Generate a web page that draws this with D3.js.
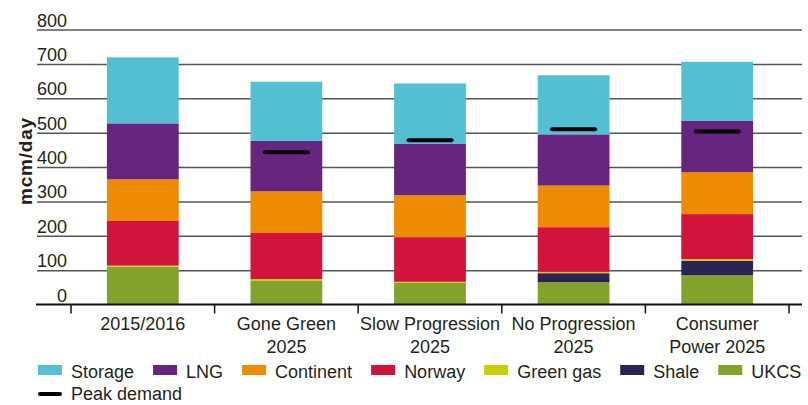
<!DOCTYPE html>
<html>
<head>
<meta charset="utf-8">
<script src="https://cdn.jsdelivr.net/npm/d3@7"></script>
<style>
  html, body { margin: 0; padding: 0; background: #fff; }
  svg { display: block; }
  text { font-family: "Liberation Sans", Arial, sans-serif; fill: #231f20; }
</style>
</head>
<body>
<svg id="chart" width="808" height="405"></svg>
<script>
// ---- Data ----
const categories = ["2015/2016", "Gone Green 2025", "Slow Progression 2025", "No Progression 2025", "Consumer Power 2025"];
const categoryLines = [["2015/2016"], ["Gone Green", "2025"], ["Slow Progression", "2025"], ["No Progression", "2025"], ["Consumer", "Power 2025"]];
const seriesNames = ["UKCS", "Shale", "Green gas", "Norway", "Continent", "LNG", "Storage"];
const ukcs      = [110, 70, 63, 65, 85];
const shale     = [0, 0, 0, 26, 42];
const greenGas  = [3, 4, 3, 4, 5];
const norway    = [130, 134, 130, 130, 131];
const continent = [121, 121, 122, 121, 122];
const lng       = [163, 147, 149, 149, 149];
const storage   = [192, 172, 176, 172, 172];
const peakDemand = [null, 443, 478, 510, 503];
const yTicks = [0, 100, 200, 300, 400, 500, 600, 700, 800];
const legendOrder = ["Storage", "LNG", "Continent", "Norway", "Green gas", "Shale", "UKCS"];
const colors = {
  "Storage": "#53bfd3",
  "LNG": "#68257f",
  "Continent": "#ef8b00",
  "Norway": "#d2133c",
  "Green gas": "#c8cf00",
  "Shale": "#2b2356",
  "UKCS": "#83a22b"
};

const seriesValues = [ukcs, shale, greenGas, norway, continent, lng, storage];
const table = categories.map((c, i) => {
  const row = { category: c };
  seriesNames.forEach((s, j) => row[s] = seriesValues[j][i]);
  return row;
});

// ---- Layout ----
const svg = d3.select("#chart");
const gridLeft = 37, gridRight = 802;
const y = d3.scaleLinear().domain([0, 800]).range([304.5, 29.5]);
const x = d3.scaleBand().domain(categories).range([71, 789]).paddingInner(0.5).paddingOuter(0.25);

// gridlines + y labels
const yAxis = d3.axisLeft(y).tickValues(yTicks).tickSize(-(gridRight - gridLeft)).tickFormat(d3.format("d"));
const gy = svg.append("g").attr("transform", `translate(${gridLeft},0)`).call(yAxis);
gy.select(".domain").remove();
gy.selectAll(".tick line").attr("stroke", "#555").attr("stroke-width", 1.5)
  .filter(d => d === 0).remove();
gy.selectAll(".tick text")
  .attr("x", 30).attr("dy", -3.5).attr("text-anchor", "end")
  .style("font-size", "18px").style("fill", "#231f20");

// y title
svg.append("text")
  .attr("transform", "translate(32,161) rotate(-90)")
  .attr("text-anchor", "middle")
  .style("font-size", "19px").style("font-weight", "bold").style("letter-spacing", "0.8px")
  .text("mcm/day");

// stacked bars
const stack = d3.stack().keys(seriesNames);
const stacked = stack(table);
svg.append("g").selectAll("g").data(stacked).join("g")
  .attr("fill", d => colors[d.key])
  .selectAll("rect").data(d => d).join("rect")
  .attr("x", d => x(d.data.category))
  .attr("width", x.bandwidth())
  .attr("y", d => y(d[1]))
  .attr("height", d => Math.max(0, y(d[0]) - y(d[1])));

// peak demand markers
const peakW = 47;
svg.append("g").selectAll("line").data(categories.map((c, i) => ({ c, v: peakDemand[i] })).filter(d => d.v != null))
  .join("line")
  .attr("x1", d => x(d.c) + x.bandwidth() / 2 - peakW / 2 + 2)
  .attr("x2", d => x(d.c) + x.bandwidth() / 2 + peakW / 2 - 2)
  .attr("y1", d => y(d.v)).attr("y2", d => y(d.v))
  .attr("stroke", "#000").attr("stroke-width", 4).attr("stroke-linecap", "round");

// x axis
const y0 = y(0);
svg.append("line").attr("x1", 36).attr("x2", gridRight).attr("y1", y0).attr("y2", y0)
  .attr("stroke", "#111").attr("stroke-width", 2);
const half = (x.step() - x.bandwidth()) / 2;
const bounds = categories.map(c => x(c) - half).concat([x(categories[categories.length - 1]) + x.bandwidth() + half]);
svg.append("g").selectAll("line").data(bounds).join("line")
  .attr("x1", d => d).attr("x2", d => d).attr("y1", y0).attr("y2", y0 + 9)
  .attr("stroke", "#111").attr("stroke-width", 1.5);

const xl = svg.append("g").selectAll("text").data(categories).join("text")
  .attr("text-anchor", "middle")
  .attr("x", d => x(d) + x.bandwidth() / 2)
  .attr("y", y0 + 25.5)
  .style("font-size", "18px");
xl.each(function(d, i) {
  const t = d3.select(this);
  categoryLines[i].forEach((line, k) => {
    t.append("tspan").attr("x", x(d) + x.bandwidth() / 2).attr("dy", k === 0 ? 0 : 23).text(line);
  });
});

// legend
const leg = svg.append("g");
let lx = 38;
legendOrder.forEach(name => {
  leg.append("rect").attr("x", lx).attr("y", 365).attr("width", 24).attr("height", 10).attr("fill", colors[name]);
  const t = leg.append("text").attr("x", lx + 33).attr("y", 378).style("font-size", "18px").text(name);
  lx += 33 + t.node().getComputedTextLength() + 19;
});
leg.append("line").attr("x1", 40).attr("x2", 60).attr("y1", 394).attr("y2", 394)
  .attr("stroke", "#000").attr("stroke-width", 4).attr("stroke-linecap", "round");
leg.append("text").attr("x", 71).attr("y", 400).style("font-size", "18px").text("Peak demand");
</script>
</body>
</html>
